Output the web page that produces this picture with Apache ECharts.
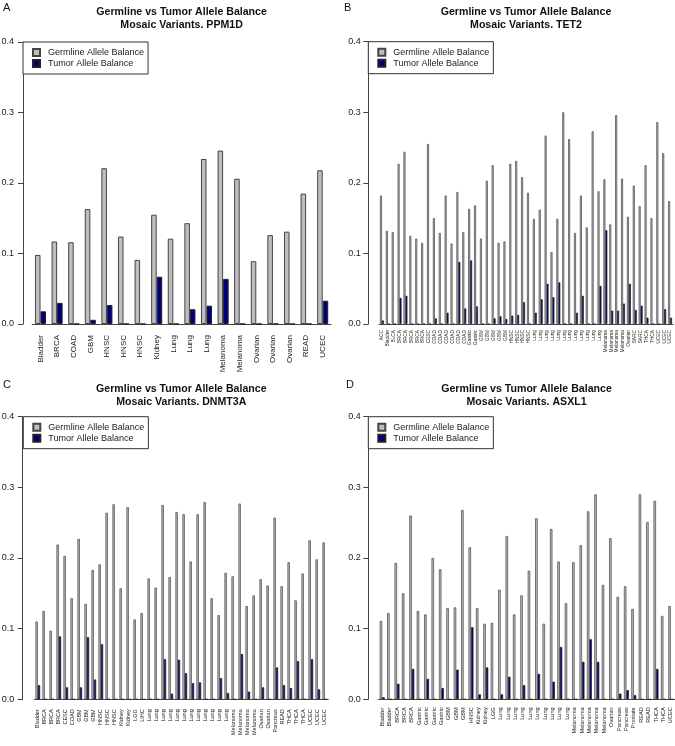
<!DOCTYPE html>
<html><head><meta charset="utf-8">
<script src="https://cdn.jsdelivr.net/npm/echarts@6/dist/echarts.min.js"></script>
<style>html,body{margin:0;padding:0;background:#fff}#c{width:675px;height:746px}</style>
</head><body><div id="c"></div>
<script>
// ---------- DATA ----------
const seriesNames = ['Germline Allele Balance', 'Tumor Allele Balance'];
const yTicks = [0, 0.1, 0.2, 0.3, 0.4];

const genesA = 'PPM1D';
const catsA = ['Bladder','BRCA','COAD','GBM','HNSC','HNSC','HNSC','Kidney','Lung','Lung','Lung','Melanoma','Melanoma','Ovarian','Ovarian','Ovarian','READ','UCEC'];
const germA = [0.098,0.117,0.116,0.163,0.221,0.124,0.091,0.155,0.121,0.143,0.234,0.246,0.206,0.089,0.126,0.131,0.185,0.218];
const tumA  = [0.018,0.030,0,0.006,0.027,0,0,0.067,0,0.021,0.026,0.064,0,0,0,0,0,0.033];

const genesB = 'TET2';
const catsB = ['ACC','Bladder','BLCA','BRCA','BRCA','BRCA','BRCA','BRCA','CESC','COAD','COAD','COAD','COAD','COAD','COAD','Gastric','Gastric','GBM','GBM','GBM','GBM','GBM','HNSC','HNSC','HNSC','HNSC','Lung','Lung','Lung','Lung','Lung','Lung','Lung','Lung','Lung','Lung','Lung','Lung','Melanoma','Melanoma','Melanoma','Melanoma','Ovarian','SARC','SARC','THCA','THCA','UCEC','UCEC','UCEC'];
const germB = [0.182,0.132,0.130,0.227,0.244,0.125,0.121,0.115,0.255,0.150,
               0.129,0.182,0.114,0.187,0.130,0.163,0.168,0.121,0.203,0.225,
               0.115,0.117,0.227,0.231,0.208,0.186,0.149,0.162,0.267,0.102,
               0.149,0.300,0.262,0.129,0.182,0.137,0.273,0.188,0.205,0.141,
               0.296,0.206,0.152,0.196,0.167,0.225,0.150,0.286,0.242,0.174];
const tumB  = [0.005,0,0,0.037,0.040,0,0,0,0,0.008,
               0,0.016,0,0.088,0.022,0.090,0.025,0,0,0.008,
               0.011,0.007,0.012,0.013,0.031,0,0.016,0.035,0.057,0.038,
               0.059,0,0,0.016,0.040,0,0,0.054,0.133,0.019,
               0.019,0.029,0.057,0.020,0.026,0.009,0,0,0.021,0.009];

const genesC = 'DNMT3A';
const catsC = ['Bladder','BRCA','BRCA','BRCA','CESC','COAD','GBM','GBM','GBM','HNSC','HNSC','HNSC','Kidney','Kidney','LGG','LIHC','Lung','Lung','Lung','Lung','Lung','Lung','Lung','Lung','Lung','Lung','Lung','Lung','Melanoma','Melanoma','Melanoma','Melanoma','Ovarian','Ovarian','Pancreas','READ','THCA','THCA','THCA','UCEC','UCEC','UCEC'];
const germC = [0.110,0.125,0.097,0.219,0.203,0.143,0.227,0.135,0.183,0.191,
               0.264,0.276,0.157,0.272,0.113,0.122,0.171,0.158,0.275,0.173,
               0.265,0.262,0.195,0.262,0.279,0.143,0.119,0.179,0.174,0.277,
               0.132,0.147,0.170,0.161,0.257,0.160,0.194,0.140,0.178,0.225,
               0.198,0.222];
const tumC  = [0.020,0,0,0.089,0.017,0,0.017,0.088,0.028,0.078,
               0,0,0,0,0,0,0,0,0.057,0.008,
               0.056,0.037,0.023,0.024,0,0,0.030,0.009,0,0.064,
               0.011,0,0.017,0,0.045,0.020,0.016,0.054,0,0.057,
               0.014,0];

const genesD = 'ASXL1';
const catsD = ['Bladder','Bladder','BRCA','BRCA','BRCA','Gastric','Gastric','Gastric','Gastric','GBM','GBM','GBM','HNSC','Kidney','Kidney','LGG','Lung','Lung','Lung','Lung','Lung','Lung','Lung','Lung','Lung','Lung','Melanoma','Melanoma','Melanoma','Melanoma','Melanoma','Ovarian','Pancreas','Pancreas','Prostate','READ','READ','THCA','THCA','UCEC'];
const germD = [0.111,0.122,0.193,0.150,0.260,0.125,0.120,0.200,0.184,0.129,
               0.130,0.268,0.215,0.129,0.107,0.108,0.155,0.231,0.120,0.147,
               0.182,0.256,0.107,0.241,0.195,0.136,0.194,0.218,0.266,0.290,
               0.162,0.228,0.145,0.160,0.128,0.290,0.251,0.281,0.118,0.132];
const tumD  = [0.003,0,0.022,0,0.043,0,0.029,0,0.016,0,
               0.042,0,0.102,0.007,0.045,0,0.007,0.032,0,0.020,
               0,0.036,0,0.025,0.074,0,0,0.053,0.085,0.053,
               0,0,0.008,0.013,0.006,0,0,0.043,0,0];

// ---------- LAYOUT ----------
const FONT = '"Liberation Sans", Arial, Helvetica, sans-serif';
const panels = [
  {letter:'A', gene:genesA, cats:catsA, germ:germA, tum:tumA, left:32.2, width:298.8, top:42,    height:282,   off:9.2,  lm:11, lf:8,   lx:3,   ly:8,   legL:23,    tx:181.6, ym:9},
  {letter:'B', gene:genesB, cats:catsB, germ:germB, tum:tumB, left:379,  width:294,   top:41.7,  height:282.3, off:10.7, lm:6,  lf:4.8, lx:344, ly:8,   legL:368.3, tx:526,   ym:7.5},
  {letter:'C', gene:genesC, cats:catsC, germ:germC, tum:tumC, left:34.3, width:294,   top:416.7, height:282.6, off:11.6, lm:10, lf:5.5, lx:3,   ly:385, legL:23.3,  tx:181.3, ym:8.5},
  {letter:'D', gene:genesD, cats:catsD, germ:germD, tum:tumD, left:378.5,width:296,   top:416.7, height:282.6, off:10.2, lm:8,  lf:5.6, lx:346, ly:385, legL:368.3, tx:526.5, ym:7.5}
];

const grid = [], xAxis = [], yAxis = [], series = [], legend = [], graphic = [];
panels.forEach((p, i) => {
  const u = p.width / p.cats.length / 3;
  grid.push({left:p.left, top:p.top, width:p.width, height:p.height, containLabel:false, outerBoundsMode:'none'});
  xAxis.push({
    type:'category', gridIndex:i, data:p.cats,
    axisLine:{show:true, lineStyle:{color:'#444', width:1}},
    axisTick:{show:false},
    axisLabel:{interval:0, rotate:90, margin:p.lm, fontSize:p.lf, color:'#222', fontFamily:FONT}
  });
  yAxis.push({
    type:'value', gridIndex:i, min:0, max:0.4, interval:0.1, offset:p.off,
    axisLine:{show:true, lineStyle:{color:'#444', width:1}},
    axisTick:{show:true, length:5, lineStyle:{color:'#444'}},
    splitLine:{show:false},
    axisLabel:{margin:p.ym, fontSize:9, color:'#222', fontFamily:FONT, formatter:v => v.toFixed(1)}
  });
  const bw = Math.max(u, 1);
  const brd = u > 4 ? 1 : 0.7;
  series.push({
    name:seriesNames[0], type:'bar', xAxisIndex:i, yAxisIndex:i, data:p.germ,
    barWidth:bw, barGap:'0%',
    itemStyle:{color:'#BEBEBE', borderColor:'#444', borderWidth:brd}
  });
  series.push({
    name:seriesNames[1], type:'bar', xAxisIndex:i, yAxisIndex:i, data:p.tum,
    barWidth:bw, barGap:'0%',
    itemStyle:{color:'#00007F', borderColor:'#222', borderWidth:brd}
  });
  legend.push({
    left:p.legL, top:p.top, orient:'vertical', selectedMode:false,
    data:seriesNames, icon:'rect', itemWidth:7, itemHeight:7, itemGap:0,
    padding:[5,4,5,9], borderColor:'#333', borderWidth:1, backgroundColor:'#fff',
    textStyle:{fontSize:9, color:'#222', fontFamily:FONT, lineHeight:11, padding:[0,0,0,3]}
  });
  const ty = p.ly + 4.3;
  graphic.push({type:'text', x:p.tx, y:ty, silent:true,
    style:{text:'Germline vs Tumor Allele Balance', font:'bold 10.6px ' + FONT, fill:'#111', textAlign:'center', textVerticalAlign:'middle'}});
  graphic.push({type:'text', x:p.tx, y:ty + 12.9, silent:true,
    style:{text:'Mosaic Variants. ' + p.gene, font:'bold 10.6px ' + FONT, fill:'#111', textAlign:'center', textVerticalAlign:'middle'}});
  graphic.push({type:'text', x:p.lx, y:p.ly, silent:true,
    style:{text:p.letter, font:'11px ' + FONT, fill:'#111', textAlign:'left', textVerticalAlign:'middle'}});
});

const chart = echarts.init(document.getElementById('c'), null, {renderer:'canvas'});
chart.setOption({
  backgroundColor:'#fff', animation:false,
  grid, xAxis, yAxis, series, legend, graphic
});
</script>
</body></html>
